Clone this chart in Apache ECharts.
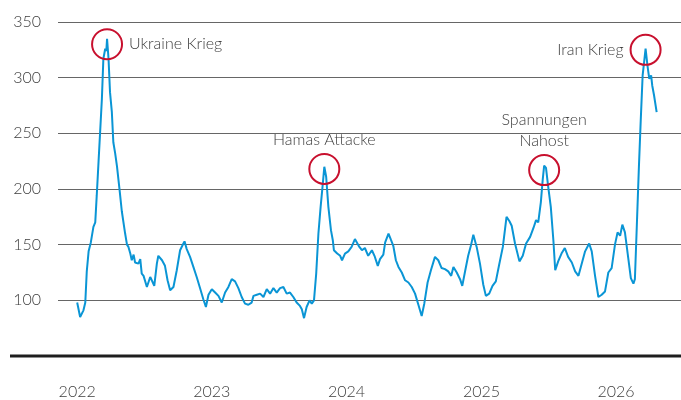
<!DOCTYPE html>
<html>
<head>
<meta charset="utf-8">
<script src="https://cdn.jsdelivr.net/npm/echarts@6/dist/echarts.min.js"></script>
<style>
  html, body { margin: 0; padding: 0; background: #fff; }
  #chart { width: 681px; height: 400px; }
</style>
</head>
<body>
<div id="chart"></div>
<script>
// index level (roughly every 10 days)
const dates = [
  '2022-01-01','2022-01-09','2022-01-18','2022-01-23','2022-01-27','2022-02-01','2022-02-07','2022-02-14',
  '2022-02-19','2022-02-23','2022-02-28','2022-03-04','2022-03-09','2022-03-13','2022-03-18','2022-03-21',
  '2022-03-23','2022-03-27','2022-03-31','2022-04-05','2022-04-09','2022-04-14','2022-04-19','2022-04-26',
  '2022-05-02','2022-05-11','2022-05-16','2022-05-20','2022-05-25','2022-05-29','2022-06-03','2022-06-07',
  '2022-06-16','2022-06-21','2022-06-25','2022-06-30','2022-07-09','2022-07-18','2022-07-25','2022-07-29',
  '2022-08-05','2022-08-09','2022-08-19','2022-08-27','2022-09-03','2022-09-10','2022-09-19','2022-09-28',
  '2022-10-07','2022-10-16','2022-10-19','2022-10-25','2022-11-03','2022-11-12','2022-11-21','2022-11-30',
  '2022-12-09','2022-12-16','2022-12-23','2023-01-01','2023-01-10','2023-01-19','2023-01-28','2023-02-06',
  '2023-02-15','2023-02-24','2023-03-05','2023-03-14','2023-03-23','2023-04-01','2023-04-10','2023-04-19',
  '2023-04-24','2023-05-03','2023-05-12','2023-05-21','2023-05-30','2023-06-08','2023-06-17','2023-06-26',
  '2023-07-05','2023-07-14','2023-07-23','2023-08-01','2023-08-10','2023-08-19','2023-08-28','2023-09-02',
  '2023-09-08','2023-09-15','2023-09-23','2023-09-29','2023-10-05','2023-10-11','2023-10-17','2023-10-23',
  '2023-10-29','2023-11-02','2023-11-07','2023-11-13','2023-11-20','2023-11-25','2023-11-28','2023-12-07',
  '2023-12-15','2023-12-20','2023-12-28','2024-01-06','2024-01-15','2024-01-24','2024-01-29','2024-02-05',
  '2024-02-12','2024-02-20','2024-02-29','2024-03-10','2024-03-17','2024-03-26','2024-04-01','2024-04-10',
  '2024-04-15','2024-04-24','2024-05-01','2024-05-07','2024-05-14','2024-05-21','2024-05-30','2024-06-08',
  '2024-06-17','2024-06-26','2024-07-05','2024-07-14','2024-07-23','2024-07-30','2024-08-08','2024-08-17',
  '2024-08-28','2024-09-06','2024-09-15','2024-09-24','2024-10-03','2024-10-11','2024-10-17','2024-10-26',
  '2024-11-04','2024-11-10','2024-11-17','2024-11-26','2024-12-04','2024-12-10','2024-12-19','2024-12-28',
  '2025-01-06','2025-01-13','2025-01-22','2025-01-31','2025-02-09','2025-02-18','2025-02-28','2025-03-10',
  '2025-03-18','2025-03-24','2025-04-02','2025-04-14','2025-04-23','2025-05-02','2025-05-13','2025-05-22',
  '2025-05-29','2025-06-04','2025-06-11','2025-06-16','2025-06-20','2025-06-25','2025-07-01','2025-07-08',
  '2025-07-15','2025-07-20','2025-07-28','2025-08-06','2025-08-15','2025-08-24','2025-09-03','2025-09-12',
  '2025-09-21','2025-09-30','2025-10-09','2025-10-20','2025-10-27','2025-11-05','2025-11-14','2025-11-23',
  '2025-12-02','2025-12-11','2025-12-20','2025-12-29','2026-01-05','2026-01-12','2026-01-18','2026-01-25',
  '2026-02-03','2026-02-10','2026-02-17','2026-02-21','2026-02-26','2026-03-04','2026-03-09','2026-03-14',
  '2026-03-18','2026-03-22','2026-03-27','2026-04-01','2026-04-06','2026-04-09','2026-04-14','2026-04-21'
]
const values = [
  98, 85, 91, 98, 126, 144, 152, 166,
  170, 194, 225, 250, 281, 317, 326, 324,
  335, 317, 287, 269, 242, 232, 220, 199,
  180, 160, 150, 148, 142, 136, 141, 134,
  133, 137, 124, 122, 112, 121, 116, 113,
  133, 140, 136, 131, 118, 109, 112, 127,
  145, 151, 153, 146, 139, 130, 121, 111,
  101, 94, 105, 110, 107, 104, 98, 107,
  112, 119, 117, 111, 103, 97, 96, 98,
  104, 105, 106, 103, 110, 106, 111, 107,
  111, 112, 106, 107, 103, 98, 95, 92,
  84, 94, 100, 97, 100, 124, 160, 184,
  205, 220, 211, 184, 163, 154, 145, 142,
  140, 136, 142, 144, 148, 155, 156, 148,
  145, 147, 140, 145, 140, 131, 137, 141,
  152, 160, 154, 149, 136, 130, 125, 118,
  116, 112, 106, 96, 86, 97, 116, 127,
  139, 136, 129, 128, 126, 122, 130, 125,
  119, 113, 125, 140, 150, 159, 148, 133,
  114, 104, 106, 113, 117, 132, 148, 175,
  171, 167, 151, 135, 140, 151, 157, 165,
  172, 170, 188, 208, 221, 219, 202, 184,
  154, 127, 135, 142, 147, 139, 134, 126,
  122, 133, 144, 151, 144, 122, 103, 105,
  108, 125, 129, 150, 161, 158, 168, 161,
  138, 120, 115, 119, 165, 221, 263, 302,
  314, 326, 311, 299, 302, 293, 284, 269
]

// annotated peaks
const eventNames = ['Ukraine Krieg', 'Hamas Attacke', 'Spannungen\nNahost', 'Iran Krieg']
const eventDates = ['2022-03-23', '2023-11-02', '2025-06-20', '2026-03-22']
const eventValues = [330, 218, 217, 325]
const eventLabelPos = ['right', 'top', 'top', 'left']

const yTicks = [50, 350, 50] // min, max, step

const textColor = '#3d3d3d'
const fontFamily = 'Lato, "Open Sans", sans-serif'

const chart = echarts.init(document.getElementById('chart'))

chart.setOption({
  animation: false,
  grid: { left: 58, right: 0, top: 22, bottom: 44 },
  xAxis: {
    type: 'time',
    min: '2021-11-10',
    max: '2026-06-26',
    minInterval: 365 * 24 * 3600 * 1000,
    axisLine: { show: false },
    axisTick: { show: false },
    splitLine: { show: false },
    axisLabel: {
      margin: 28,
      fontSize: 16,
      fontWeight: 300,
      color: textColor,
      fontFamily,
      showMinLabel: false,
      showMaxLabel: false,
      formatter: (val) => String(new Date(val).getFullYear()),
    },
  },
  yAxis: {
    type: 'value',
    min: yTicks[0],
    max: yTicks[1],
    interval: yTicks[2],
    axisLine: { show: false },
    axisTick: { show: false },
    axisLabel: {
      margin: 17,
      fontSize: 16,
      fontWeight: 300,
      color: textColor,
      fontFamily,
      showMinLabel: false,
    },
    splitLine: { lineStyle: { color: '#666', width: 1.2 } },
  },
  graphic: [
    {
      type: 'line',
      shape: { x1: 10, y1: 356, x2: 681, y2: 356 },
      style: { stroke: '#1e1e1e', lineWidth: 3 },
      z: 10,
    },
  ],
  series: [
    {
      type: 'line',
      data: dates.map((d, i) => [d, values[i]]),
      showSymbol: false,
      lineStyle: { width: 2, color: '#0a95d5' },
      itemStyle: { color: '#0a95d5' },
      markPoint: {
        symbol: 'circle',
        symbolSize: 30,
        itemStyle: { color: 'transparent', borderColor: '#c8102e', borderWidth: 2 },
        data: eventNames.map((nm, i) => ({
          name: nm,
          coord: [eventDates[i], eventValues[i]],
          label: {
            show: true,
            position: eventLabelPos[i],
            distance: eventLabelPos[i] === 'top' ? 3 : 6,
            formatter: nm,
            fontSize: 16,
            fontWeight: 300,
            lineHeight: 21,
            align: eventLabelPos[i] === 'top' ? 'center' : undefined,
            color: textColor,
            fontFamily,
          },
        })),
      },
    },
  ],
})
</script>
</body>
</html>
